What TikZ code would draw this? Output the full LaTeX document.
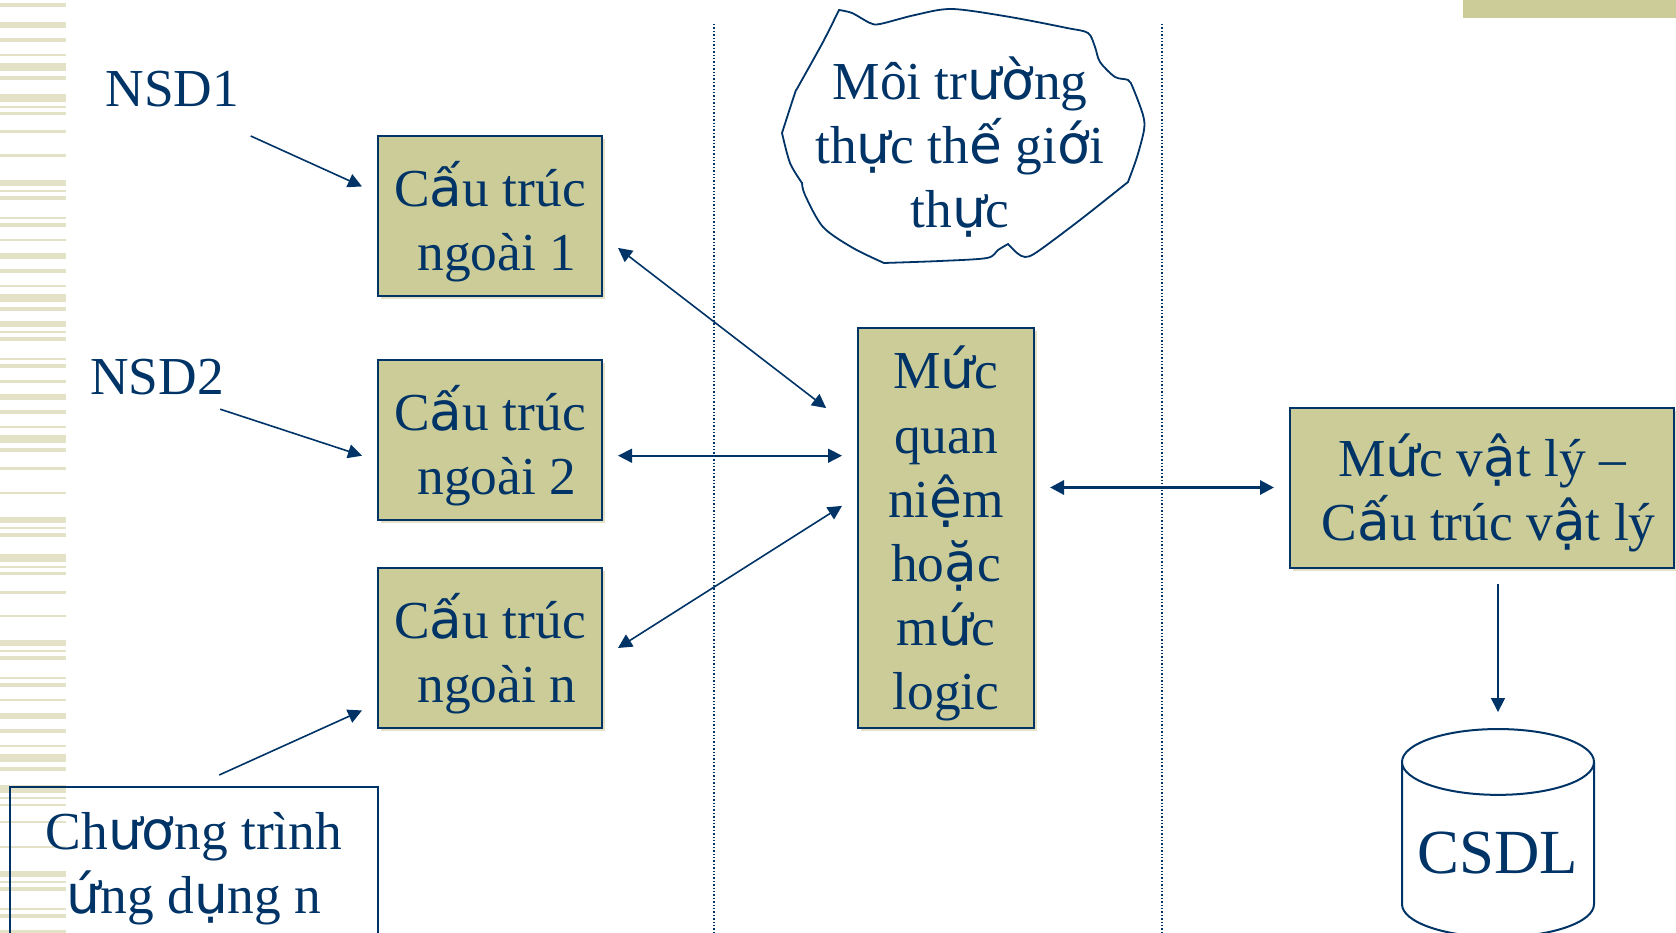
\documentclass[tikz,border=0pt]{standalone}
\usepackage{fontspec}
\setmainfont{Liberation Serif}
\newfontfamily\fallbackfont{DejaVu Sans}
\newcommand{\fb}[1]{{\fallbackfont #1}}
\usepackage{xcolor}
\usepackage{tikz}
\usetikzlibrary{shapes.geometric,arrows.meta,shadows}
\definecolor{navytext}{HTML}{003366}
\definecolor{olivebox}{HTML}{CCCC99}
\definecolor{olivestripe}{HTML}{E3E2C6}
\tikzset{
    bodytext/.style={text=navytext,font=\fontsize{53.4}{64.2}\selectfont,align=center,inner sep=0pt},
    linedtext/.style={bodytext,text depth=0pt},
    levelbox/.style={linedtext,draw=navytext,line width=2pt,fill=olivebox,outer sep=16pt,
        drop shadow={shadow xshift=3pt,shadow yshift=-3pt,fill=olivestripe,opacity=1}},
    userlabel/.style={bodytext,minimum height=64pt},
    linkarrow/.style={draw=navytext,line width=1.6pt,{Triangle[length=14pt,width=14pt]}-{Triangle[length=14pt,width=14pt]}},
    userarrow/.style={draw=navytext,line width=1.6pt,-{Triangle[length=14pt,width=14pt]}},
    sepline/.style={draw=navytext,line width=1.4pt,dotted}
}

\begin{document}
\begin{tikzpicture}[x=1pt,y=-1pt]
        \useasboundingbox (0,0) rectangle (1676,933);

        % Stripes on the left and bar at the top
        \foreach \ya/\yb in {3.5/7.5,22/28,38/42,54/56,63/71,76/80,94/102,106/108,112.5/115,130.5/133,154.5/157,180/186,190/192,196/200,217/219,223/227,239/241,253/259,269/273,285/287,294/302,307/311,321/327,331.5/333,337/341,358/360,364/368,380/382.5,394/400,410/414,426/428,435/443,448/452,467/470,492/494,517/523,527/529,533/537,554/562,566/568,572/575,591/594,615/617,640/646,650/652,656/660,677/679,683/687,699/701,713/719,729/733,745/747,754/762,767/771,785/793,797/799,804/806,821/823,846/848,871/877,881/883,887/891,908/910,914/918,930/933}
            \fill[olivestripe] (0,\ya) rectangle (66,\yb);
        \fill[olivebox] (1463,0) rectangle (1676,18);

        % Dotted separators
        \draw[sepline] (714,24) -- (714,933);
        \draw[sepline] (1162,24) -- (1162,933);

        % Freehand outline of the real world
        \draw[navytext,line width=1.8pt]
            plot[smooth,tension=.5] coordinates {(839,10) (852,13) (870,23) (880,24) (915,15) (952,9) (1010,17) (1067,28) (1088,33) (1095,47) (1100,62) (1115,77) (1128,80) (1133,88) (1143,115) (1144,130) (1137,157) (1128,182)}
            -- plot[smooth,tension=.5] coordinates {(1128,182) (1080,220) (1037,252) (1025,257) (1017,253) (1008,244)}
            -- plot[smooth,tension=.5] coordinates {(1008,244) (998,250) (987,258) (940,261) (884,263)}
            -- plot[smooth,tension=.5] coordinates {(884,263) (853,248) (823,227) (805,195) (802,183)}
            -- plot[smooth,tension=.5] coordinates {(802,183) (790,163) (782,133)}
            -- plot[smooth,tension=.5] coordinates {(782,133) (795,93) (798,87) (823,42) (839,10)} -- cycle;
        \node[linedtext] (moitruong) at (960,142) {Môi tr\fb{ườ}ng\\th\fb{ự}c th\fb{ế} gi\fb{ớ}i\\th\fb{ự}c};

        % Users and external levels
        \node[userlabel,outer sep=15pt] (nsd1) at (172.5,89) {NSD1};
        \node[userlabel] (nsd2) at (157,377) {NSD2};
        \node[levelbox,minimum width=224pt,minimum height=160pt] (ngoai1) at (490,216) {C\fb{ấ}u trúc\\\hspace*{.25em}ngoài 1};
        \node[levelbox,minimum width=224pt,minimum height=160pt] (ngoai2) at (490,440) {C\fb{ấ}u trúc\\\hspace*{.25em}ngoài 2};
        \node[levelbox,minimum width=224pt,minimum height=160pt] (ngoain) at (490,648) {C\fb{ấ}u trúc\\\hspace*{.25em}ngoài n};
        \node[linedtext,draw=navytext,line width=2pt,outer sep=12pt,minimum width=368pt,minimum height=152pt] (ungdung) at (194,863) {Ch\fb{ươ}ng trình\\\fb{ứ}ng d\fb{ụ}ng n};

        % Conceptual and physical levels
        \node[levelbox,minimum width=176pt,minimum height=400pt] (quanniem) at (946,528) {M\fb{ứ}c\\quan\\ni\fb{ệ}m\\ho\fb{ặ}c\\m\fb{ứ}c\\logic};
        \node[levelbox,minimum width=384pt,minimum height=160pt] (vatly) at (1482,487.5) {M\fb{ứ}c v\fb{ậ}t lý –\\\hspace*{.25em}C\fb{ấ}u trúc v\fb{ậ}t lý};
        \node[cylinder,shape border rotate=90,aspect=.41,draw=navytext,line width=2pt,text=navytext,font=\fontsize{62.8}{70}\selectfont,text height=48pt,minimum width=192pt,minimum height=208pt,inner sep=0pt,outer sep=17pt] (csdl) at (1498,850) {CSDL};

        % Connectors
        \draw[userarrow] (nsd1.-31) -- (ngoai1.167);
        \draw[userarrow] (nsd2.-27.3) -- (ngoai2.187);
        \draw[userarrow] (ungdung.74.8) -- (ngoain.206.7);
        \draw[linkarrow,shorten >=20pt] (ngoai1.-14.35) -- (quanniem.134.1);
        \draw[linkarrow] (ngoai2.-7.4) -- (ngoai2.-7.4 -| quanniem.west);
        \draw[linkarrow] (ngoain.east) -- (quanniem.168.4);
        \draw[linkarrow,line width=3pt] (vatly.west -| quanniem.east) -- (vatly.west);
        \draw[userarrow] (csdl.north |- vatly.south) -- (csdl.north);

    \end{tikzpicture}
\end{document}
